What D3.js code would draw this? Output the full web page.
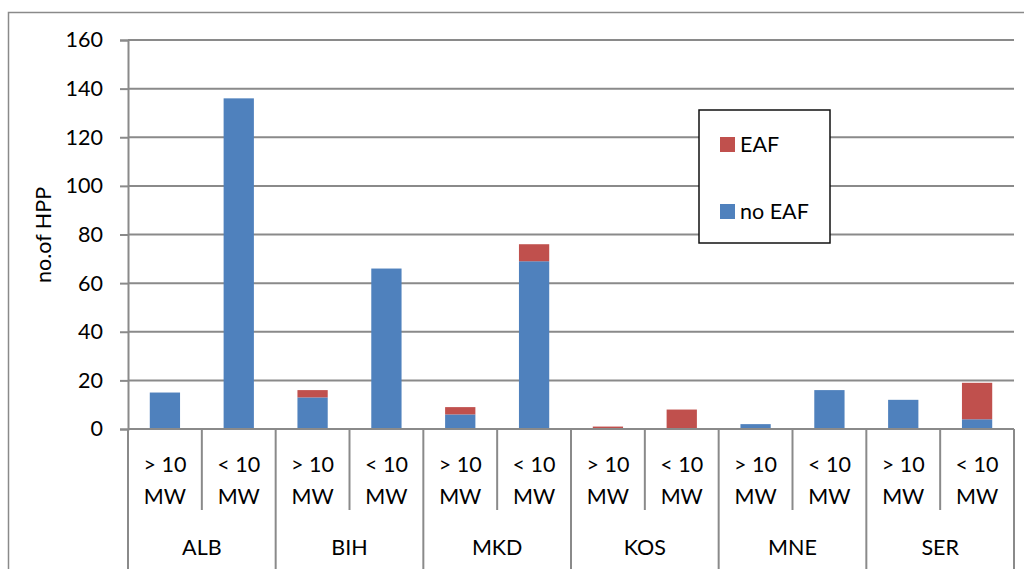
<!DOCTYPE html>
<html>
<head>
<meta charset="utf-8">
<script src="https://cdn.jsdelivr.net/npm/d3@7"></script>
<style>
  html, body { margin: 0; padding: 0; background: #fff; }
  svg { display: block; }
  text { font-family: Lato, "Open Sans", sans-serif; fill: #000; }
</style>
</head>
<body>
<svg id="chart" width="1024" height="569"></svg>
<script>
// Hydropower plants per country and size class
const countries = ["ALB", "BIH", "MKD", "KOS", "MNE", "SER"];
const sizeClasses = ["> 10 MW", "< 10 MW"];
const noEaf = [15, 136, 13, 66, 6, 69, 0, 0, 2, 16, 12, 4];
const eaf   = [0, 0, 3, 0, 3, 7, 1, 8, 0, 0, 0, 15];
const yTicks = [0, 20, 40, 60, 80, 100, 120, 140, 160];
const seriesNames = ["EAF", "no EAF"];
const seriesColors = { "EAF": "#C0504D", "no EAF": "#4F81BD" };

const rows = [];
countries.forEach((c, i) => {
  sizeClasses.forEach((s, j) => {
    const k = i * sizeClasses.length + j;
    rows.push({ key: c + "|" + s, country: c, size: s, "no EAF": noEaf[k], "EAF": eaf[k] });
  });
});

const svg = d3.select("#chart");
const plotLeft = 128, plotRight = 1014, plotTop = 40, plotBase = 429;
const gridColor = "#8a8a8a";
const fontSize = 21.5;

// outer chart frame
svg.append("path")
  .attr("d", "M8.5,569 V12.5 H1024")
  .attr("fill", "none").attr("stroke", gridColor).attr("stroke-width", 1.5);

const x = d3.scaleBand().domain(rows.map(d => d.key)).range([plotLeft, plotRight]).paddingInner(0).paddingOuter(0);
const y = d3.scaleLinear().domain([0, 160]).range([plotBase, plotTop]);

// horizontal gridlines
svg.append("g").selectAll("line").data(yTicks.filter(t => t > 0)).join("line")
  .attr("x1", plotLeft).attr("x2", plotRight)
  .attr("y1", d => y(d)).attr("y2", d => y(d))
  .attr("stroke", gridColor).attr("stroke-width", 2);

// y axis
const yAxis = svg.append("g").attr("transform", `translate(${plotLeft},0)`)
  .call(d3.axisLeft(y).tickValues(yTicks).tickSize(8).tickPadding(17));
yAxis.select(".domain").attr("stroke", gridColor).attr("stroke-width", 2);
yAxis.selectAll(".tick line").attr("stroke", gridColor).attr("stroke-width", 2);
yAxis.selectAll(".tick text").attr("font-size", fontSize).attr("font-family", "Lato, sans-serif").attr("fill", "#000");

// y axis title
svg.append("text")
  .attr("transform", "translate(51,235) rotate(-90)")
  .attr("text-anchor", "middle")
  .attr("font-size", fontSize)
  .text("no.of HPP");

// stacked bars
const stack = d3.stack().keys(["no EAF", "EAF"]);
const layers = stack(rows);
const barW = x.bandwidth() * 0.41;
svg.append("g").selectAll("g").data(layers).join("g")
  .attr("fill", d => seriesColors[d.key])
  .selectAll("rect").data(d => d).join("rect")
  .attr("x", d => x(d.data.key) + (x.bandwidth() - barW) / 2)
  .attr("width", barW)
  .attr("y", d => y(d[1]))
  .attr("height", d => y(d[0]) - y(d[1]));

// baseline
svg.append("line")
  .attr("x1", plotLeft).attr("x2", plotRight).attr("y1", plotBase).attr("y2", plotBase)
  .attr("stroke", gridColor).attr("stroke-width", 2);

// category axis: size-class dividers and labels
const xg = svg.append("g");
rows.forEach((d, i) => {
  const x0 = x(d.key);
  const isGroupEdge = i % sizeClasses.length === 0;
  xg.append("line")
    .attr("x1", x0).attr("x2", x0)
    .attr("y1", plotBase).attr("y2", isGroupEdge ? 569 : 510)
    .attr("stroke", gridColor).attr("stroke-width", 2);
  const parts = d.size.split(" ");
  const cx = x0 + x.bandwidth() / 2;
  xg.append("text").attr("x", cx).attr("y", 472).attr("text-anchor", "middle")
    .attr("font-size", fontSize).text(parts[0] + " " + parts[1]);
  xg.append("text").attr("x", cx).attr("y", 504).attr("text-anchor", "middle")
    .attr("font-size", fontSize).text(parts[2]);
});
xg.append("line")
  .attr("x1", plotRight).attr("x2", plotRight).attr("y1", plotBase).attr("y2", 569)
  .attr("stroke", gridColor).attr("stroke-width", 2);

// country group labels
countries.forEach((c, i) => {
  const k0 = rows[i * 2].key;
  const cx = x(k0) + x.bandwidth();
  xg.append("text").attr("x", cx).attr("y", 555).attr("text-anchor", "middle")
    .attr("font-size", fontSize).text(c);
});

// legend
const lg = svg.append("g");
lg.append("rect").attr("x", 699).attr("y", 110).attr("width", 131).attr("height", 133)
  .attr("fill", "#fff").attr("stroke", "#111").attr("stroke-width", 1.5);
seriesNames.forEach((name, i) => {
  const yy = 137 + i * 67;
  lg.append("rect").attr("x", 720).attr("y", yy).attr("width", 15).attr("height", 15)
    .attr("fill", seriesColors[name]);
  lg.append("text").attr("x", 740).attr("y", yy + 15).attr("font-size", fontSize).text(name);
});
</script>
</body>
</html>
